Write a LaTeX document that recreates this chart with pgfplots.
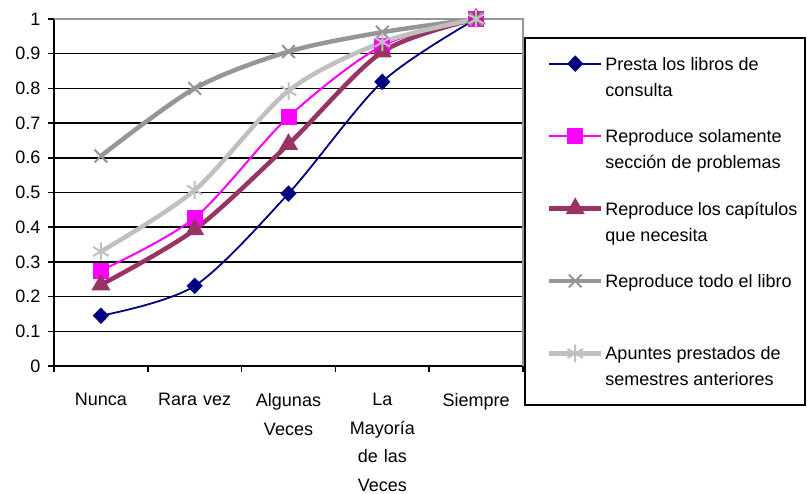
\documentclass[border=0pt]{standalone}
\usepackage{pgfplots}
\pgfplotsset{compat=1.18}
\usepackage{fontspec}
\setmainfont{Liberation Sans}
\definecolor{navy}{HTML}{000080}
\definecolor{mag}{HTML}{FF00FF}
\definecolor{plum}{HTML}{993366}
\definecolor{dgray}{HTML}{969696}
\definecolor{lgray}{HTML}{C0C0C0}
\newcommand{\legtxt}[1]{\parbox[t]{192bp}{\raggedright\strut #1\strut}}
\begin{document}
\begin{tikzpicture}[font=\fontsize{18bp}{26bp}\selectfont]
\useasboundingbox (0,0) rectangle (807bp,494bp);
\begin{axis}[
  at={(54bp,128bp)}, anchor=south west,
  scale only axis, width=469bp, height=347bp,
  xmin=-0.5, xmax=4.5, ymin=0, ymax=1,
  clip=false,
  axis x line*=bottom, axis y line*=left,
  axis line style={black, line width=1.5bp},
  ytick={0,0.1,0.2,0.3,0.4,0.5,0.6,0.7,0.8,0.9,1},
  yticklabel style={/pgf/number format/fixed, /pgf/number format/precision=1, font=\fontsize{18bp}{26bp}\selectfont, xshift=-4bp},
  /pgf/number format/assume math mode=true,
  ymajorgrids, major grid style={black, line width=1.5bp},
  tick style={black, line width=1.5bp}, tick align=outside, major tick length=6bp,
  xtick={-0.5,0.5,1.5,2.5,3.5,4.5}, xticklabels={},
  extra x ticks={0,1,2,3,4},
  extra x tick labels={Nunca,Rara vez,Algunas\\Veces,La\\Mayoría\\de las\\Veces,Siempre},
  extra x tick style={major tick length=0pt, xticklabel style={text width=100bp, align=center, font=\fontsize{18bp}{28.5bp}\selectfont, anchor=north, yshift=-24bp}},
  legend image code/.code={\path (0bp,6.5bp) (65bp,6.5bp); \draw[mark repeat=2, mark phase=2] plot coordinates {(14bp,6.5bp) (40bp,6.5bp) (66bp,6.5bp)};},
  legend style={at={(rel axis cs:1.0213,0.9107)}, anchor=north west, draw=none, fill=none, outer sep=0pt, inner xsep=0pt, inner ysep=0pt, row sep=48.75bp, column sep=0pt, font=\fontsize{18bp}{26bp}\selectfont, cells={anchor=base west, inner sep=0pt}},
]
\draw[dgray, line width=1.5bp] (rel axis cs:0,1) -- (rel axis cs:1,1) -- (rel axis cs:1,0);
\addplot[navy, line width=1.8bp, smooth, mark=diamond*, mark size=7bp, mark options={solid, fill=navy, xscale=1.3}]
  coordinates {(0,0.145) (1,0.231) (2,0.497) (3,0.819) (4,1)};
\addlegendentry{\legtxt{Presta los libros de\\consulta}}
\addplot[mag, line width=2bp, smooth, mark=square*, mark size=7bp, mark options={solid, fill=mag}]
  coordinates {(0,0.275) (1,0.427) (2,0.718) (3,0.923) (4,1)};
\addlegendentry{\legtxt{Reproduce solamente\\sección de problemas}}
\addplot[plum, line width=4.5bp, smooth, mark=triangle*, mark size=10bp, mark options={solid, fill=plum, line width=1bp}]
  coordinates {(0,0.234) (1,0.393) (2,0.639) (3,0.905) (4,1)};
\addlegendentry{\legtxt{Reproduce los capítulos\\que necesita}}
\addplot[dgray, line width=4.5bp, smooth, mark=x, mark size=9bp, mark options={solid, line width=2bp}]
  coordinates {(0,0.605) (1,0.80) (2,0.906) (3,0.962) (4,1)};
\addlegendentry{\legtxt{Reproduce todo el libro\\\mbox{}}}
\addplot[lgray, line width=4.5bp, smooth, mark=asterisk, mark size=9bp, mark options={solid, line width=2bp}]
  coordinates {(0,0.330) (1,0.507) (2,0.793) (3,0.933) (4,1)};
\addlegendentry{\legtxt{Apuntes prestados de\\semestres anteriores}}
\draw[black, fill=white, line width=2bp] (rel axis cs:1.0043,0.9452) rectangle (rel axis cs:1.6013,-0.1124);
\end{axis}
\end{tikzpicture}
\end{document}
